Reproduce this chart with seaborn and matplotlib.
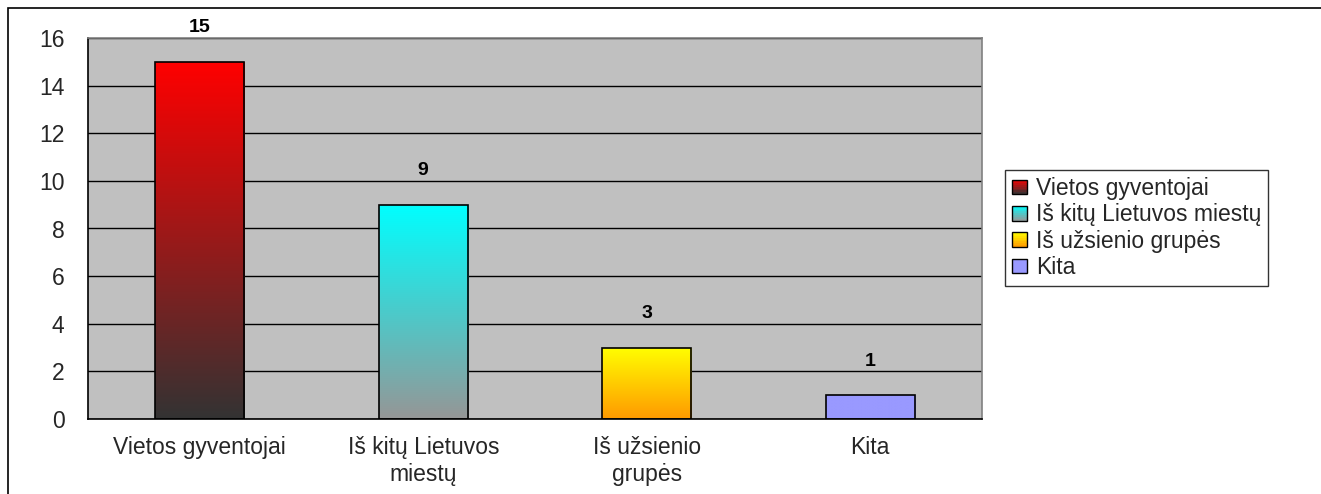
import numpy as np
import pandas as pd
import seaborn as sns
import matplotlib
matplotlib.use('Agg')
from matplotlib import pyplot as plt
from matplotlib.colors import LinearSegmentedColormap, to_rgb
from matplotlib.patches import Rectangle
from matplotlib.legend_handler import HandlerBase

categories = ['Vietos gyventojai', 'Iš kitų Lietuvos miestų', 'Iš užsienio grupės', 'Kita']
tick_labels = ['Vietos gyventojai', 'Iš kitų Lietuvos\nmiestų', 'Iš užsienio\ngrupės', 'Kita']
values = [15, 9, 3, 1]
top_colors = ['#FF0000', '#00FFFF', '#FFFF00', '#9999FF']
bottom_colors = ['#333333', '#969696', '#FF9900', '#9999FF']

df = pd.DataFrame({'cat': categories, 'val': values})

sns.set_style('white')
plt.rcParams['font.family'] = ['Liberation Sans', 'DejaVu Sans']

fig = plt.figure(figsize=(13.21, 4.94), dpi=100)
ax = fig.add_axes([88 / 1321, 75 / 494, 894 / 1321, 381 / 494])
ax.set_facecolor('#C0C0C0')

sns.barplot(data=df, x='cat', y='val', hue='cat', palette=top_colors, width=0.4,
            edgecolor='black', linewidth=1.2, legend=False, ax=ax, zorder=3)

# gradient fill inside each bar
for bar, c_top, c_bot in zip(ax.patches, top_colors, bottom_colors):
    x0, y0 = bar.get_x(), bar.get_y()
    w, h = bar.get_width(), bar.get_height()
    cmap = LinearSegmentedColormap.from_list('g', [c_bot, c_top])
    grad = np.linspace(0, 1, 256).reshape(-1, 1)
    im = ax.imshow(grad, cmap=cmap, origin='lower', aspect='auto',
                   extent=[x0, x0 + w, y0, y0 + h], zorder=2)
    im.set_clip_path(bar)
    bar.set_facecolor('none')
    ax.annotate(str(int(h)), (x0 + w / 2, h), xytext=(0, 24.5), textcoords='offset points',
                ha='center', va='center', fontsize=14, fontweight='bold', color='black')

ax.set_xlim(-0.5, 3.5)
ax.set_ylim(0, 16)
ax.set_yticks(range(0, 17, 2))
ax.yaxis.grid(True, color='black', linewidth=1)
ax.set_axisbelow(True)
ax.set_xlabel('')
ax.set_ylabel('')
ax.set_xticks(range(4))
ax.set_xticklabels(tick_labels, linespacing=1.25)
ax.set_xticks([-0.5, 0.5, 1.5, 2.5, 3.5], minor=True)
ax.tick_params(axis='x', which='major', length=0, pad=12, labelsize=16.5)
ax.tick_params(axis='x', which='minor', length=5, width=1, color='#808080', direction='out')
ax.tick_params(axis='y', length=6, width=1, color='black', direction='out', labelsize=16.5, pad=11)
ax.spines['left'].set_color('black')
ax.spines['bottom'].set_color('black')
ax.spines['top'].set_color('#808080')
ax.spines['right'].set_color('#808080')
for s in ax.spines.values():
    s.set_linewidth(1.2)


class GradientHandler(HandlerBase):
    def __init__(self, c_top, c_bot):
        super().__init__()
        self.c_top, self.c_bot = c_top, c_bot

    def create_artists(self, legend, orig_handle, xdescent, ydescent, width, height, fontsize, trans):
        arts = []
        n = 8
        t, b = np.array(to_rgb(self.c_top)), np.array(to_rgb(self.c_bot))
        for i in range(n):
            f = (i + 0.5) / n
            arts.append(Rectangle((-xdescent, -ydescent + height * i / n), width, height / n,
                                  facecolor=b + (t - b) * f, edgecolor='none', transform=trans))
        arts.append(Rectangle((-xdescent, -ydescent), width, height, facecolor='none',
                              edgecolor='black', linewidth=1, transform=trans))
        return arts


handles = [Rectangle((0, 0), 1, 1) for _ in categories]
handler_map = {h: GradientHandler(t, b) for h, t, b in zip(handles, top_colors, bottom_colors)}
leg = fig.legend(handles, categories, handler_map=handler_map, loc='upper left',
                 bbox_to_anchor=(1005 / 1321, 1 - 170 / 494), fontsize=16.5, frameon=True,
                 fancybox=False, edgecolor='black', handlelength=0.65, handleheight=0.6,
                 handletextpad=0.4, labelspacing=0.15, borderpad=0.3, borderaxespad=0)
leg.get_frame().set_linewidth(1)

# outer chart border
fig.patches.append(Rectangle((8 / 1321, -0.1), 1.1, 1.1 - 8 / 494, transform=fig.transFigure,
                             fill=False, edgecolor='black', linewidth=1.2))

fig.savefig('out.png', dpi=100, facecolor='white')
